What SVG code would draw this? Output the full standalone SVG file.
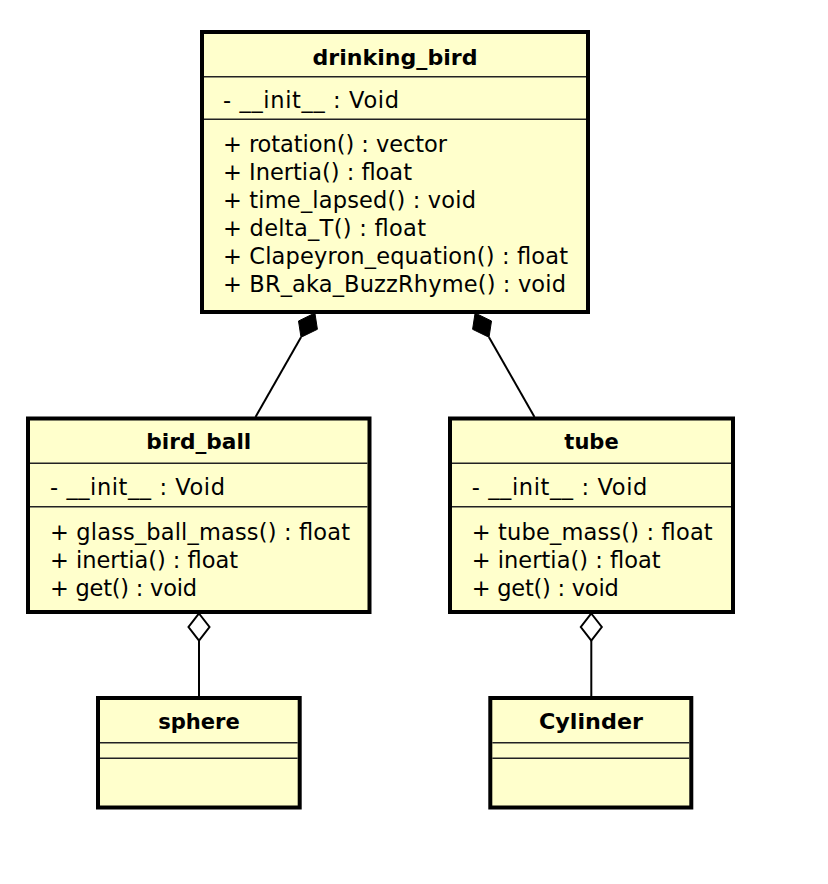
<svg xmlns="http://www.w3.org/2000/svg" width="828" height="884" viewBox="0 0 828 884">
<style>
.box{fill:#FFFFCC;stroke:#000;stroke-width:4}
.sep{stroke:#222;stroke-width:1.6}
.t{font-family:"DejaVu Sans",Verdana,sans-serif;font-size:22.5px;fill:#000}
.h{font-family:"DejaVu Sans",Verdana,sans-serif;font-size:22px;font-weight:bold;fill:#000;text-anchor:middle}
.ln{stroke:#000;stroke-width:2;fill:none}
.fd{fill:#000;stroke:#000;stroke-width:1}
.od{fill:#fff;stroke:#000;stroke-width:2}
</style>
<rect width="828" height="884" fill="#fff"/>
<g id="connectors">
<line class="ln" x1="301" y1="337.3" x2="255.5" y2="417"/>
<polygon class="fd" points="314.9,313 317.4,329.3 301,337.3 298.5,321"/>
<line class="ln" x1="489" y1="337.3" x2="534.5" y2="417"/>
<polygon class="fd" points="475.1,313 472.6,329.3 489,337.3 491.5,321"/>
<line class="ln" x1="199" y1="640.5" x2="199" y2="697"/>
<polygon class="od" points="199,613.5 209.5,627 199,640.5 188.5,627"/>
<line class="ln" x1="591.3" y1="640.5" x2="591.3" y2="697"/>
<polygon class="od" points="591.3,613.5 601.8,627 591.3,640.5 580.8,627"/>
</g>
<g id="drinking_bird">
<rect class="box" x="202" y="32" width="386" height="280"/>
<line class="sep" x1="204" y1="76.7" x2="586" y2="76.7"/>
<line class="sep" x1="204" y1="119.3" x2="586" y2="119.3"/>
<text class="h" x="395" y="65" textLength="165" lengthAdjust="spacingAndGlyphs">drinking_bird</text>
<text class="t" x="223" y="108" textLength="176">- __init__ : Void</text>
<text class="t" x="223" y="152" textLength="224">+ rotation() : vector</text>
<text class="t" x="223" y="180" textLength="189">+ Inertia() : float</text>
<text class="t" x="223" y="208" textLength="253">+ time_lapsed() : void</text>
<text class="t" x="223" y="236" textLength="203">+ delta_T() : float</text>
<text class="t" x="223" y="264" textLength="345">+ Clapeyron_equation() : float</text>
<text class="t" x="223" y="292" textLength="343">+ BR_aka_BuzzRhyme() : void</text>
</g>
<g id="bird_ball">
<rect class="box" x="28" y="418.5" width="341.5" height="193.5"/>
<line class="sep" x1="30" y1="463.3" x2="367.5" y2="463.3"/>
<line class="sep" x1="30" y1="506.7" x2="367.5" y2="506.7"/>
<text class="h" x="198.8" y="449.3" textLength="105" lengthAdjust="spacingAndGlyphs">bird_ball</text>
<text class="t" x="50" y="494.5" textLength="175">- __init__ : Void</text>
<text class="t" x="50" y="540" textLength="300">+ glass_ball_mass() : float</text>
<text class="t" x="50" y="568" textLength="188">+ inertia() : float</text>
<text class="t" x="50" y="596" textLength="147">+ get() : void</text>
</g>
<g id="tube">
<rect class="box" x="450" y="418.5" width="283" height="193.5"/>
<line class="sep" x1="452" y1="463.3" x2="731" y2="463.3"/>
<line class="sep" x1="452" y1="506.7" x2="731" y2="506.7"/>
<text class="h" x="591.5" y="449.3" textLength="54.3" lengthAdjust="spacingAndGlyphs">tube</text>
<text class="t" x="471.7" y="494.5" textLength="175.6">- __init__ : Void</text>
<text class="t" x="471.7" y="540" textLength="241">+ tube_mass() : float</text>
<text class="t" x="471.7" y="568" textLength="189">+ inertia() : float</text>
<text class="t" x="471.7" y="596" textLength="147">+ get() : void</text>
</g>
<g id="sphere">
<rect class="box" x="98" y="698" width="201.7" height="109.5"/>
<line class="sep" x1="100" y1="742.7" x2="297.7" y2="742.7"/>
<line class="sep" x1="100" y1="758.3" x2="297.7" y2="758.3"/>
<text class="h" x="199" y="729.3" textLength="81.7" lengthAdjust="spacingAndGlyphs">sphere</text>
</g>
<g id="Cylinder">
<rect class="box" x="490.3" y="698" width="201" height="109.5"/>
<line class="sep" x1="492.3" y1="742.7" x2="689.3" y2="742.7"/>
<line class="sep" x1="492.3" y1="758.3" x2="689.3" y2="758.3"/>
<text class="h" x="591" y="729.3" textLength="104" lengthAdjust="spacingAndGlyphs">Cylinder</text>
</g>
</svg>
